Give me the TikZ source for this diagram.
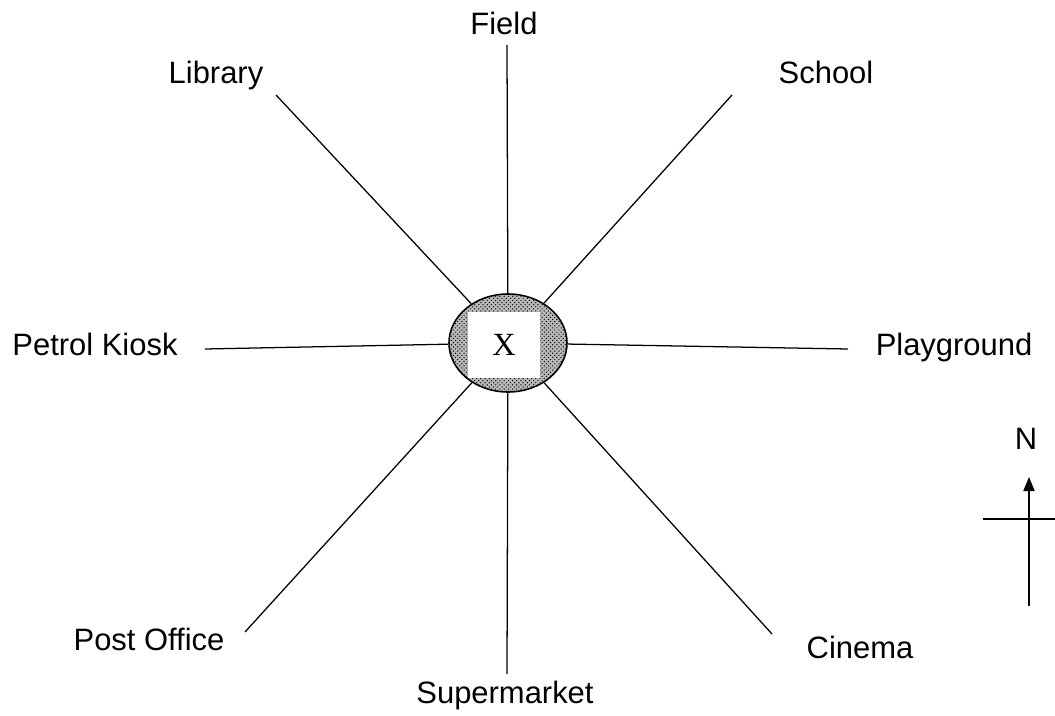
\documentclass[tikz,border=0pt]{standalone}
\usepackage{fontspec}
\setmainfont{Liberation Sans}
\newfontfamily\serifx{Liberation Serif}
\usetikzlibrary{shapes.geometric,patterns,arrows.meta}

\tikzset{
  place/.style={font=\fontsize{22}{24}\selectfont,text height=1.45ex,text depth=0pt,inner sep=0pt},
  spoke/.style={line width=0.9pt},
  hub/.style={ellipse,draw,line width=1.1pt,minimum width=2.95cm,minimum height=2.45cm,
    preaction={fill=gray!55},pattern=crosshatch dots,pattern color=black},
}

\begin{document}
\begin{tikzpicture}[x=0.025cm,y=-0.025cm]
    \useasboundingbox (0,0) rectangle (1055,716);
    \fill[white] (0,0) rectangle (1055,716);

    % the hub with the point X
    \node[hub] (x) at (508,343) {};
    \node[fill=white,minimum width=1.8cm,minimum height=1.65cm,inner sep=0pt,
      font=\serifx\fontsize{23}{24}\selectfont] (xbox) at (504,345) {X};

    % places round the hub
    \foreach \name/\ex/\ey/\lx/\ly/\txt in {
        field/507/45/504/29/Field,
        library/276/95/216/78/Library,
        school/732/95/826/78/School,
        petrol/205/349/95/350/Petrol Kiosk,
        playground/848/349/954/350/Playground,
        post/245/632/149/645/Post Office,
        super/507/674/505/698/Supermarket,
        cinema/772/634/860/653/Cinema}
    {
        \node[place] (\name) at (\lx,\ly) {\txt};
        \coordinate (\name-end) at (\ex,\ey);
        \draw[spoke] (x) -- (\name-end);
    }

    % north arrow
    \node[place] (north) at (1026,444) {N};
    \coordinate (n-foot) at (1029,606);
    \coordinate (n-tip) at (1029,477);
    \coordinate (w-end) at (983,519);
    \coordinate (e-end) at (1055,519);
    \draw[spoke,-{Triangle[width=8pt,length=10pt]}] (n-foot) -- (n-tip);
    \draw[spoke] (w-end) -- (e-end);
\end{tikzpicture}
\end{document}
